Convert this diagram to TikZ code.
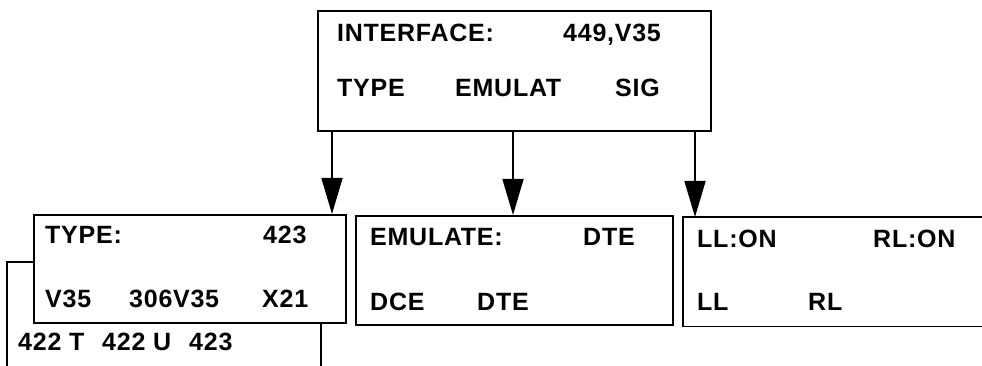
\documentclass[tikz,border=0pt]{standalone}
\usepackage{fontspec}
\setmainfont{Liberation Sans}[LetterSpace=3]
\usetikzlibrary{arrows.meta}
\begin{document}
\begin{tikzpicture}[x=1pt,y=-1pt,
  box/.style={draw,line width=1.6pt,rectangle,inner sep=0pt,anchor=north west},
  openbox/.style={rectangle,inner sep=0pt,anchor=north west},
  lbl/.style={anchor=base west,inner sep=0pt,font=\fontsize{25}{29}\selectfont\bfseries},
  arr/.style={line width=1.6pt,-{Triangle[length=36pt,width=21pt]}},
  ln/.style={line width=1.6pt}]
\useasboundingbox (0,0) rectangle (982,366);
% boxes
\node[box,minimum width=393pt,minimum height=120pt] (top) at (317,10) {};
\node[box,minimum width=312pt,minimum height=108pt] (tbox) at (33,214) {};
\node[box,minimum width=317pt,minimum height=109pt] (ebox) at (355,215) {};
\node[openbox,minimum width=320pt,minimum height=109pt] (sbox) at (683,217) {};
\draw[ln] (sbox.north east) -- (sbox.north west) -- (sbox.south west) -- (sbox.south east);
% arrow columns
\coordinate (a1) at (332,0);
\coordinate (a2) at (513,0);
\coordinate (a3) at (695,0);
\draw[arr] (top.south -| a1) -- (tbox.north -| a1);
\draw[arr] (top.south -| a2) -- (ebox.north -| a2);
\draw[arr] (top.south -| a3) -- (sbox.north -| a3);
% drop-down list outline
\coordinate (dl) at (7,262);
\coordinate (dlb) at (7,370);
\coordinate (dr) at (321,0);
\coordinate (drb) at (321,370);
\draw[ln] (tbox.west |- dl) -- (dl) -- (dlb);
\draw[ln] (tbox.south -| dr) -- (drb);
% texts top box
\node[lbl] (t1) at (337,42) {INTERFACE:};
\node[lbl] (t2) at (563,42) {449,V35};
\node[lbl] (t3) at (337,97) {TYPE};
\node[lbl] (t4) at (455,97) {EMULAT};
\node[lbl] (t5) at (615,97) {SIG};
% type box
\node[lbl] (y1) at (45,243) {TYPE:};
\node[lbl] (y2) at (263,243) {423};
\node[lbl] (y3) at (45,307) {V35};
\node[lbl] (y4) at (129,307) {306V35};
\node[lbl] (y5) at (262,307) {X21};
% drop-down items
\node[lbl] (d1) at (18,350) {422 T};
\node[lbl] (d2) at (102,350) {422 U};
\node[lbl] (d3) at (189,350) {423};
% emulate box
\node[lbl] (e1) at (370,245) {EMULATE:};
\node[lbl] (e2) at (583,245) {DTE};
\node[lbl] (e3) at (370,310) {DCE};
\node[lbl] (e4) at (477,310) {DTE};
% signal box
\node[lbl] (s1) at (697,247) {LL:ON};
\node[lbl] (s2) at (873,247) {RL:ON};
\node[lbl] (s3) at (697,310) {LL};
\node[lbl] (s4) at (808,310) {RL};
\end{tikzpicture}
\end{document}
